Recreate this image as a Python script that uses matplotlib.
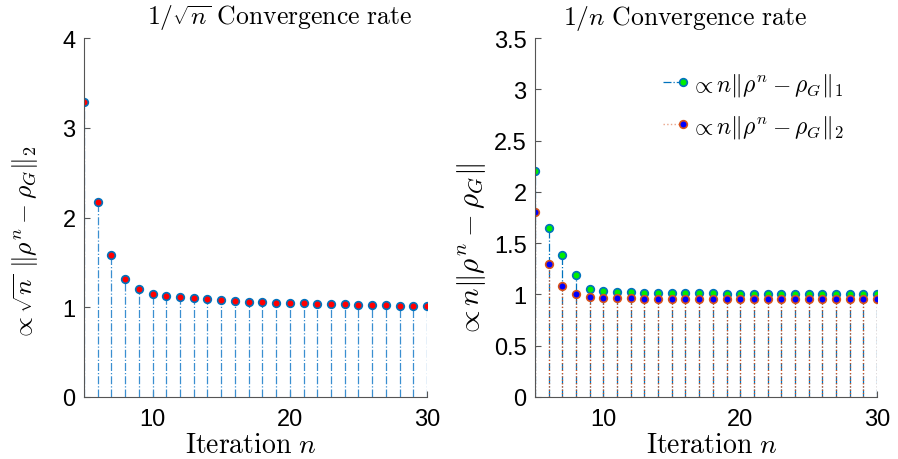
import numpy as np
import matplotlib
matplotlib.use('Agg')
import matplotlib.pyplot as plt
from matplotlib.lines import Line2D
from matplotlib.legend_handler import HandlerLine2D

plt.rcParams['mathtext.fontset'] = 'cm'
plt.rcParams['font.family'] = ['Liberation Sans', 'DejaVu Sans']

# iteration index
n = np.arange(5, 31)

# left panel: sqrt(n) * ||rho^n - rho_G||_2
err_sqrt = [3.29, 2.17, 1.58, 1.32, 1.205, 1.15, 1.13, 1.11, 1.10, 1.09, 1.08,
            1.07, 1.064, 1.053, 1.05, 1.046, 1.042, 1.038, 1.034, 1.031, 1.028,
            1.024, 1.021, 1.018, 1.014, 1.011]

# right panel: n * ||rho^n - rho_G||_1 and n * ||rho^n - rho_G||_2
err_n_l1 = [2.2, 1.647, 1.383, 1.192, 1.05, 1.03, 1.023, 1.02, 1.016, 1.014,
            1.013, 1.012, 1.011, 1.01, 1.009, 1.008, 1.008, 1.007, 1.007, 1.006,
            1.006, 1.006, 1.005, 1.005, 1.005, 1.005]
err_n_l2 = [1.80, 1.295, 1.08, 1.0, 0.978, 0.968, 0.965, 0.962, 0.96, 0.96,
            0.959, 0.959, 0.958, 0.958, 0.958, 0.957, 0.957, 0.957, 0.957, 0.956,
            0.956, 0.956, 0.956, 0.956, 0.956, 0.956]

blue = '#0072BD'
orange = '#D95319'
axcol = '#555555'

fig = plt.figure(figsize=(8.98, 4.6), dpi=100)
ax1 = fig.add_axes([84/898, 1-398/460, 343/898, 359/460])
ax2 = fig.add_axes([535/898, 1-398/460, 342/898, 359/460])


def style_stem(st, lcol, ls, face, edge):
    st.markerline.set_markerfacecolor(face)
    st.markerline.set_markeredgecolor(edge)
    st.markerline.set_markersize(5.5)
    st.markerline.set_markeredgewidth(1.2)
    st.stemlines.set_color(lcol)
    st.stemlines.set_linestyle(ls)
    st.stemlines.set_linewidth(0.9)
    st.baseline.set_visible(False)


# legend entries: line with the marker sitting at its right end
class RightMarker(HandlerLine2D):
    def create_artists(self, *args, **kwargs):
        arts = super().create_artists(*args, **kwargs)
        arts[0].set_markevery([2])
        return arts


s = ax1.stem(n, err_sqrt, linefmt='-', markerfmt='o', basefmt=' ')
style_stem(s, '#3a8fd0', '-.', 'red', blue)

s1 = ax2.stem(n, err_n_l1, linefmt='-', markerfmt='o', basefmt=' ')
style_stem(s1, blue, '-.', '#00EE00', blue)
s2 = ax2.stem(n, err_n_l2, linefmt='-', markerfmt='o', basefmt=' ')
style_stem(s2, orange, ':', 'blue', orange)

h1 = Line2D([], [], color=blue, ls='-.', lw=0.9, marker='o', ms=5.5,
            mfc='#00EE00', mec=blue, mew=1.2)
h2 = Line2D([], [], color='#eaa58a', ls=':', lw=1.0, marker='o', ms=5.5,
            mfc='blue', mec=orange, mew=1.2)

ax1.set_xlim(5, 30)
ax1.set_ylim(0, 4)
ax1.set_yticks([0, 1, 2, 3, 4])
ax2.set_xlim(5, 30)
ax2.set_ylim(0, 3.5)
ax2.set_yticks([0, 0.5, 1, 1.5, 2, 2.5, 3, 3.5])
ax2.set_yticklabels(['0', '0.5', '1', '1.5', '2', '2.5', '3', '3.5'])

for ax in (ax1, ax2):
    ax.set_xticks([10, 20, 30])
    ax.spines['top'].set_visible(False)
    ax.spines['right'].set_visible(False)
    ax.spines['left'].set_color(axcol)
    ax.spines['bottom'].set_color(axcol)
    ax.tick_params(direction='in', length=4, labelsize=17, width=0.8,
                   colors=axcol, labelcolor='black')
    ax.tick_params(axis='x', pad=8)
    ax.tick_params(axis='y', pad=6)
    ax.set_xlabel(r'$\mathrm{Iteration}\ n$', fontsize=20, va='center')

ax1.xaxis.set_label_coords(0.487, -0.133)
ax2.xaxis.set_label_coords(0.518, -0.133)

ax1.set_title(r'$1/\sqrt{n}\ \mathrm{Convergence\ rate}$', fontsize=18.5,
              x=0.571, y=1.0, pad=10)
ax2.set_title(r'$1/n\ \mathrm{Convergence\ rate}$', fontsize=18.5,
              x=0.439, y=1.0, pad=10)

ax1.set_ylabel(r'$\propto\sqrt{n}\ \|\rho^n-\rho_G\|_2$', fontsize=18.5,
               va='center')
ax1.yaxis.set_label_coords(-0.172, 0.43)
ax2.set_ylabel(r'$\propto n\|\rho^n-\rho_G\|$', fontsize=21, va='center')
ax2.yaxis.set_label_coords(-0.187, 0.41)

leg = fig.legend([h1, h2],
                 [r'$\propto n\|\rho^n-\rho_G\|_1$', r'$\propto n\|\rho^n-\rho_G\|_2$'],
                 loc='upper left', bbox_to_anchor=(663/898, 1-72/460),
                 frameon=False, fontsize=17, numpoints=1,
                 handlelength=0.85, handletextpad=0.3, labelspacing=0.62,
                 borderpad=0, borderaxespad=0,
                 handler_map={Line2D: RightMarker()})

fig.savefig('out.png', dpi=100)
